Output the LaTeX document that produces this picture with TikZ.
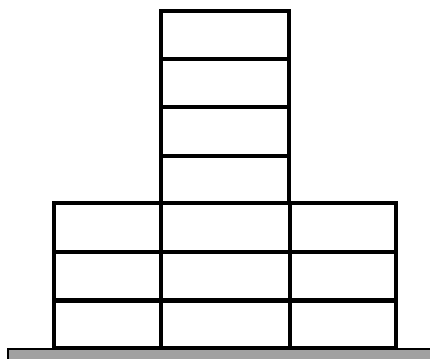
\documentclass[tikz,border=0pt]{standalone}
\begin{document}
\begin{tikzpicture}[x=1pt,y=-1pt,
  cell/.style={draw=black,line width=3.2pt},
  ground/.style={draw=black,fill=black!37,line width=1.5pt}]
\useasboundingbox (0,0) rectangle (430,358);
\path[ground] (8,349) rectangle (440,366);
% tower
\foreach \a/\b in {11/59,59/107,107/156,156/203}{
  \path[cell] (161,\a) rectangle (289,\b);
}
% lower block
\foreach \a/\b in {203/252,252/299.5,301.5/348}{
  \path[cell] (54,\a) rectangle (161,\b);
  \path[cell] (161,\a) rectangle (290,\b);
  \path[cell] (290,\a) rectangle (396,\b);
}
\end{tikzpicture}
\end{document}
